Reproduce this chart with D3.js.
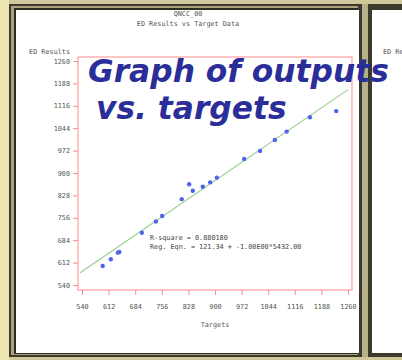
<!DOCTYPE html>
<html>
<head>
<meta charset="utf-8">
<script src="https://cdn.jsdelivr.net/npm/d3@7"></script>
<style>
  body { margin: 0; background: #fff; }
  svg { display: block; }
  .tick text { font-family: "DejaVu Sans Mono", monospace; font-size: 6.8px; fill: #555; }
  .tick line { stroke: #ff8a8a; }
  .sas { font-family: "DejaVu Sans Mono", monospace; font-size: 6.8px; fill: #555; }
</style>
</head>
<body>
<div id="chart"></div>
<script>
// values
const targets = [596, 618, 637, 641, 702, 740, 757, 810, 830, 840, 867, 887, 905, 979, 1022, 1062, 1094, 1157, 1228];
const results = [601, 623, 644, 646, 708, 744, 762, 816, 864, 843, 856, 870, 885, 945, 971, 1006, 1033, 1079, 1099];
const fitTargets = [535, 1260];
const fitResults = [579, 1168];
const tickValues = [540, 612, 684, 756, 828, 900, 972, 1044, 1116, 1188, 1260];
const titleLines = ['QNCC_00', 'ED Results vs Target Data'];
const statLines = ['R-square = 0.880180', 'Reg. Eqn. = 121.34 + -1.00E00*5432.00'];
const overlayLines = ['Graph of outputs', 'vs. targets'];

const width = 402, height = 360;
const frame = { left: 78, right: 352, top: 57, bottom: 290 };
const pad = 4;

const svg = d3.select('#chart').append('svg')
    .attr('width', width)
    .attr('height', height);

// slide frame around the picture
svg.append('rect').attr('x', 0).attr('y', 0).attr('width', width).attr('height', height).attr('fill', '#cfc89a');
svg.append('rect').attr('x', 0).attr('y', 0).attr('width', 9).attr('height', height).attr('fill', '#ebe6b2');
svg.append('rect').attr('x', 9).attr('y', 4).attr('width', width - 9).attr('height', 353).attr('fill', '#3b3a2c');
svg.append('rect').attr('x', 11).attr('y', 6).attr('width', 347).attr('height', 349).attr('fill', '#a9a27a');
svg.append('rect').attr('x', 14).attr('y', 8).attr('width', 344).attr('height', 346).attr('fill', '#2e2d22');
svg.append('rect').attr('x', 16).attr('y', 10).attr('width', 343).attr('height', 343).attr('fill', '#fff');
svg.append('rect').attr('x', 362).attr('y', 4).attr('width', 6).attr('height', 353).attr('fill', '#b8b088');
svg.append('rect').attr('x', 372).attr('y', 10).attr('width', 30).attr('height', 343).attr('fill', '#fff');
svg.append('text').attr('class', 'sas').attr('x', 383).attr('y', 54).text('ED Results');

const x = d3.scaleLinear().domain([540, 1260]).range([frame.left + pad, frame.right - pad]);
const y = d3.scaleLinear().domain([540, 1260]).range([frame.bottom - 5, frame.top + pad]);

// titles
svg.selectAll('.title')
    .data(titleLines)
    .enter()
    .append('text')
    .attr('class', 'sas')
    .attr('x', 188)
    .attr('y', (d, i) => 16 + i * 9.5)
    .attr('text-anchor', 'middle')
    .text(d => d);

svg.append('text')
    .attr('class', 'sas')
    .attr('x', 70)
    .attr('y', 54)
    .attr('text-anchor', 'end')
    .text('ED Results');

// axes
const yAxis = svg.append('g')
    .attr('transform', `translate(${frame.left},0)`)
    .style('color', '#555')
    .call(d3.axisLeft(y).tickValues(tickValues).tickSize(5).tickPadding(3).tickFormat(d3.format('d')));
yAxis.select('.domain').remove();

const xAxis = svg.append('g')
    .attr('transform', `translate(0,${frame.bottom})`)
    .style('color', '#555')
    .call(d3.axisBottom(x).tickValues(tickValues).tickSize(5).tickPadding(9).tickFormat(d3.format('d')));
xAxis.select('.domain').remove();

svg.append('rect')
    .attr('x', frame.left)
    .attr('y', frame.top)
    .attr('width', frame.right - frame.left)
    .attr('height', frame.bottom - frame.top)
    .attr('fill', 'none')
    .attr('stroke', '#ff8a8a')
    .attr('stroke-width', 1);

svg.append('text')
    .attr('class', 'sas')
    .attr('x', (frame.left + frame.right) / 2)
    .attr('y', 327)
    .attr('text-anchor', 'middle')
    .text('Targets');

// regression line
const fitLine = d3.line()
    .x(d => x(d[0]))
    .y(d => y(d[1]));

svg.append('path')
    .datum(d3.zip(fitTargets, fitResults))
    .attr('d', fitLine)
    .attr('fill', 'none')
    .attr('stroke', '#96d08c')
    .attr('stroke-width', 1.2);

svg.selectAll('.dot')
    .data(d3.zip(targets, results))
    .enter()
    .append('circle')
    .attr('class', 'dot')
    .attr('cx', d => x(d[0]))
    .attr('cy', d => y(d[1]))
    .attr('r', 2.2)
    .attr('fill', '#5262f0');

svg.selectAll('.stat')
    .data(statLines)
    .enter()
    .append('text')
    .attr('class', 'sas')
    .attr('x', 150)
    .attr('y', (d, i) => 239.5 + i * 9)
    .style('fill', '#444')
    .text(d => d);

// big overlay caption
svg.selectAll('.overlay')
    .data(overlayLines)
    .enter()
    .append('text')
    .attr('x', (d, i) => i ? 96 : 88)
    .attr('y', (d, i) => i ? 119 : 82)
    .attr('font-family', '"DejaVu Sans", sans-serif')
    .attr('font-weight', 'bold')
    .attr('font-style', 'italic')
    .attr('font-size', 31.3)
    .attr('fill', '#2b2e98')
    .text(d => d);
</script>
</body>
</html>
